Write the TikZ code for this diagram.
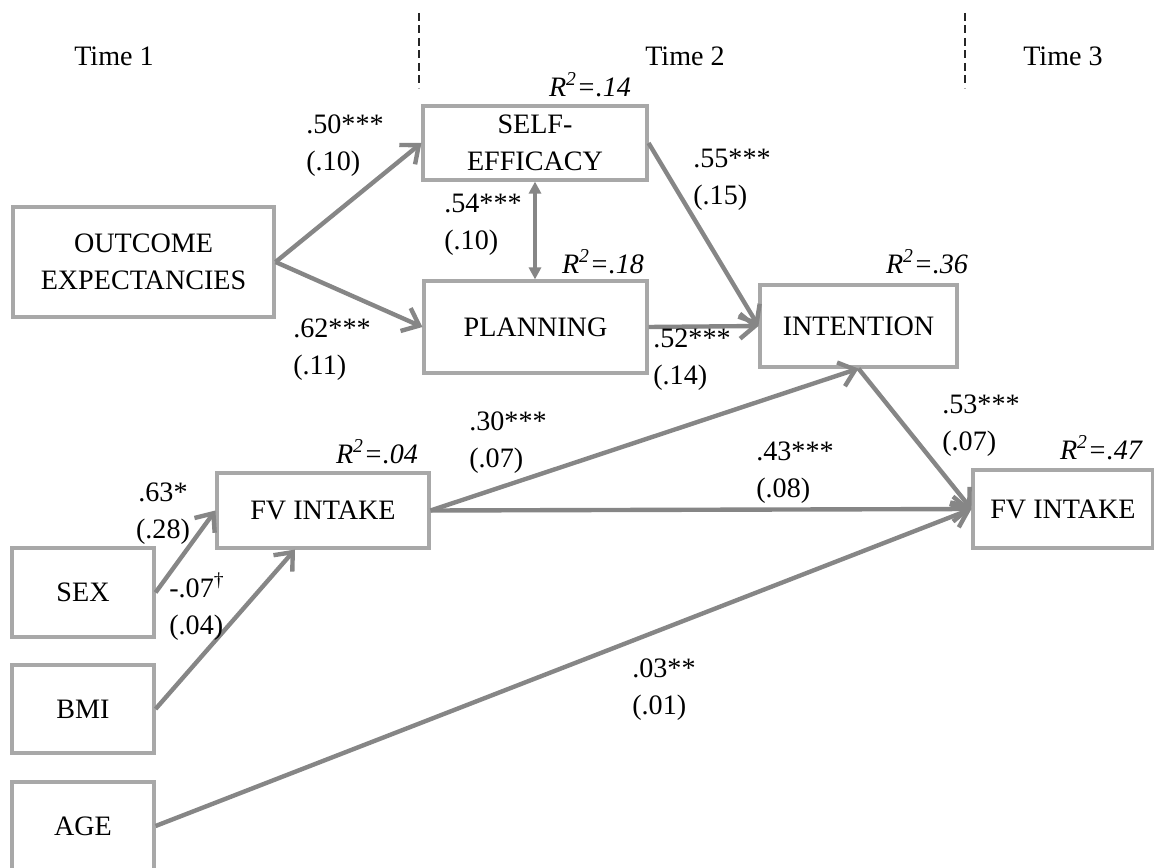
\documentclass[tikz,border=0pt]{standalone}
\usepackage{fontspec}
\setmainfont{Liberation Serif}
\usetikzlibrary{arrows.meta,positioning}
\definecolor{pathgray}{RGB}{134,134,134}
\definecolor{boxgray}{RGB}{168,168,168}

\begin{document}
\begin{tikzpicture}[x=0.02cm, y=-0.02cm, font=\fontsize{16}{21}\selectfont]
    \tikzset{varbox/.style={rectangle, draw=boxgray, line width=1.8pt, align=center, inner sep=2pt}}
    \tikzset{coef/.style={anchor=west, align=left, inner sep=0pt}}
    \tikzset{rsq/.style={font=\fontsize{16}{21}\selectfont\itshape, inner sep=0pt}}
    \tikzset{effect/.style={-{Straight Barb[length=0.3cm, width=0.5cm]}, line width=2.5pt, draw=pathgray}}
    \tikzset{covar/.style={{Triangle[length=0.24cm, width=0.24cm]}-{Triangle[length=0.24cm, width=0.24cm]}, line width=2pt, draw=pathgray}}

    \path[use as bounding box, clip] (0,0) rectangle (1154,868);

    % Waves
    \node (time1) at (114,56) {Time 1};
    \node (time2) at (685,56) {Time 2};
    \node (time3) at (1063,56) {Time 3};
    \draw[dash pattern=on 0.16cm off 0.09cm, line width=1.1pt, black!85] (419,13) -- (419,88);
    \draw[dash pattern=on 0.16cm off 0.09cm, line width=1.1pt, black!85] (965,13) -- (965,88);

    % Variables
    \node[varbox, minimum width=5.22cm, minimum height=2.2cm]  (outcome)   at (143.5,262) {OUTCOME\\EXPECTANCIES};
    \node[varbox, minimum width=4.48cm, minimum height=1.48cm] (selfeff)   at (535,143)   {SELF-\\EFFICACY};
    \node[varbox, minimum width=4.46cm, minimum height=1.84cm] (planning)  at (535.5,327) {PLANNING};
    \node[varbox, minimum width=3.94cm, minimum height=1.64cm] (intention) at (858.5,326) {INTENTION};
    \node[varbox, minimum width=4.24cm, minimum height=1.5cm]  (fvone)     at (323,510.5) {FV INTAKE};
    \node[varbox, minimum width=3.6cm,  minimum height=1.56cm] (fvthree)   at (1063,509)  {FV INTAKE};
    \node[varbox, minimum width=2.84cm, minimum height=1.78cm] (sex)       at (83,592.5)  {SEX};
    \node[varbox, minimum width=2.84cm, minimum height=1.76cm] (bmi)       at (83,709)    {BMI};
    \node[varbox, minimum width=2.84cm, minimum height=1.76cm] (age)       at (83,826)    {AGE};

    % Explained variance
    \node[rsq] (rse)  at (590,85)   {R\textsuperscript{2}=.14};
    \node[rsq] (rpl)  at (603,262)  {R\textsuperscript{2}=.18};
    \node[rsq] (rint) at (927,262)  {R\textsuperscript{2}=.36};
    \node[rsq] (rfv1) at (377,452)  {R\textsuperscript{2}=.04};
    \node[rsq] (rfv3) at (1101,448) {R\textsuperscript{2}=.47};

    % Paths
    \draw[effect] (outcome.east) -- (selfeff.west);
    \draw[effect] (outcome.east) -- (planning.west);
    \draw[covar] (selfeff.south) -- (selfeff.south |- planning.north);
    \draw[effect] (selfeff.east) -- (intention.west);
    \draw[effect] (planning.east) -- (intention.west);
    \draw[effect] (fvone.east) -- (intention.south);
    \draw[effect] (fvone.east) -- (fvthree.west);
    \draw[effect] (intention.south) -- (fvthree.west);
    \draw[effect] (sex.east) -- (fvone.west);
    \draw[effect] (bmi.east) -- ([xshift=-0.56cm]fvone.south);
    \draw[effect] (age.east) -- (fvthree.west);

    % Coefficients (SE)
    \node[coef] (b50) at (306,146) {.50***\\(.10)};
    \node[coef] (b54) at (444,225) {.54***\\(.10)};
    \node[coef] (b62) at (293,350) {.62***\\(.11)};
    \node[coef] (b55) at (693,180) {.55***\\(.15)};
    \node[coef] (b52) at (653,360) {.52***\\(.14)};
    \node[coef] (b30) at (469,443) {.30***\\(.07)};
    \node[coef] (b43) at (756,473) {.43***\\(.08)};
    \node[coef] (b53) at (942,426) {.53***\\(.07)};
    \node[coef, anchor=center, align=center] (b63) at (163,514) {.63*\\(.28)};
    \node[coef] (b07) at (169,607) {-.07\textsuperscript{\textdagger}\\(.04)};
    \node[coef] (b03) at (632,690) {.03**\\(.01)};
\end{tikzpicture}
\end{document}
